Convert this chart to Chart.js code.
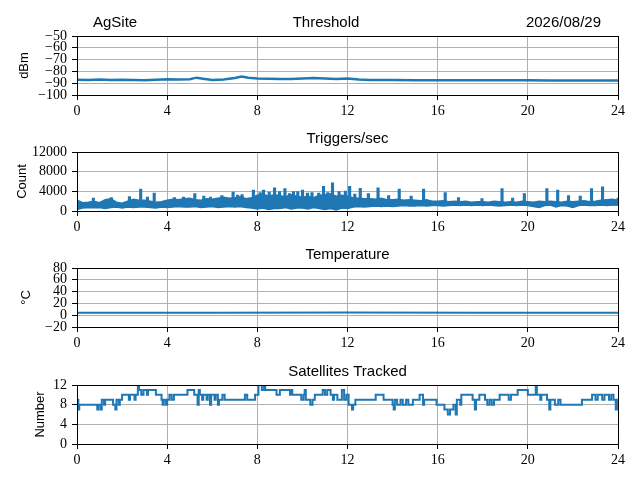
<!DOCTYPE html>
<html>
<head>
<meta charset="utf-8">
<script src="https://cdn.jsdelivr.net/npm/chart.js@4.4.1/dist/chart.umd.min.js"></script>
<style>
  body { margin: 0; background: #fff; }
  #wrap { position: relative; width: 640px; height: 480px; }
  canvas { position: absolute; left: 0; }
</style>
</head>
<body>
<div id="wrap">
  <canvas id="thr" width="640" height="120" style="top:0px"></canvas>
  <canvas id="trig" width="640" height="120" style="top:116px"></canvas>
  <canvas id="temp" width="640" height="120" style="top:232px"></canvas>
  <canvas id="sats" width="640" height="120" style="top:349px"></canvas>
</div>
<script>
// tick labels
const hourTicks = [0, 4, 8, 12, 16, 20, 24];
const thrTicks = [-100, -90, -80, -70, -60, -50];
const trigTicks = [0, 4000, 8000, 12000];
const tempTicks = [-20, 0, 20, 40, 60, 80];
const satTicks = [0, 4, 8, 12];

// threshold (dBm)
const thrHours = [0, 0.5, 1, 1.5, 2, 2.5, 3, 3.5, 4, 4.5, 5, 5.3, 5.6, 6, 6.5, 7, 7.3, 7.6, 8, 8.5,
  9, 9.5, 10, 10.5, 11, 11.5, 12, 12.5, 13, 14, 15, 16, 17, 18, 19, 20, 21, 22, 23, 24];
const thrDbm = [-87.0, -87.2, -86.9, -87.3, -87.0, -87.2, -87.6, -87.0, -86.6, -86.9, -86.6, -85.3, -86.2, -87.2, -86.9, -85.6, -84.4, -85.3, -86.0, -86.3,
  -86.5, -86.4, -86.0, -85.6, -86.0, -86.4, -86.1, -86.8, -87.2, -87.3, -87.4, -87.4, -87.5, -87.5, -87.5, -87.6, -87.8, -87.8, -87.7, -87.7];

// triggers/sec, low and high edge of the noisy band every quarter hour
const trigLow = [
  300, 600, 700, 650,   700, 500, 700, 800,   600, 800, 700, 800,   800, 700, 600, 800,
  700, 800, 900, 800,   800, 900, 700, 800,   900, 700, 800, 900,   800, 900, 700, 600,
  400, 600, 300, 500,   500, 700, 400, 600,   600, 400, 700, 500,   300, 500, 200, 600,
  500, 800, 900, 800,   900, 1000, 900, 1000, 900, 1000, 1100, 1000, 1000, 1100, 1000, 1100,
  1100, 1000, 1100, 1200, 1100, 1200, 1100, 1200, 1100, 1200, 1100, 1000, 1100, 1200, 1100, 1200,
  1100, 900, 700, 1100, 1200, 800, 1100, 1000, 700, 1100, 1200, 1100, 1100, 1200, 1100, 1200,
  1200];
const trigHigh = [
  2200, 1700, 1800, 2000, 1700, 2300, 2500, 1800, 1600, 2000, 2400, 2200, 2200, 2000, 1800, 1900,
  2200, 2400, 2300, 2500, 2600, 2300, 2200, 2500, 2400, 2600, 2800, 2600, 2700, 2900, 2500, 2700,
  3200, 3400, 3000, 3300, 3100, 2900, 3300, 3000, 2800, 3000, 2700, 3200, 3300, 3500, 3000, 3200,
  3000, 2700, 2600, 2500, 2500, 2400, 2600, 2300, 2300, 2400, 2200, 2300, 2200, 2100, 2300, 2000,
  2000, 2100, 1900, 2000, 1900, 2000, 1800, 1900, 1900, 1800, 2000, 1900, 1800, 1900, 1800, 2000,
  1900, 1800, 2000, 1900, 2000, 1900, 1800, 2000, 1900, 2000, 2100, 1900, 2000, 2200, 2300, 2400,
  2200];
const spikeHours = [0.7, 1.5, 2.3, 2.8, 3.1, 3.4, 4.3, 4.7, 5.2, 5.6, 5.9, 6.4, 6.9, 7.1, 7.3, 7.8, 8.1, 8.25, 8.5, 8.74,
  8.96, 9.2, 9.4, 9.58, 9.77, 9.98, 10.2, 10.4, 10.7, 10.91, 11.1, 11.31, 11.6, 11.88, 12.07, 12.3, 12.54, 12.9, 13.33, 13.8,
  14.27, 14.8, 15.35, 16.31, 16.9, 17.94, 18.83, 19.3, 19.82, 20.82, 21.3, 21.78, 22.3, 22.8, 23.29, 23.98];
const spikeCounts = [2500, 2600, 2800, 4300, 2700, 3500, 2600, 2700, 3400, 2900, 2700, 3000, 3700, 3100, 3200, 4100, 3600, 4100, 3700, 4600,
  3800, 4400, 3400, 3800, 3800, 4100, 3500, 3600, 3500, 4900, 3600, 5600, 3800, 3900, 4900, 3300, 4500, 3400, 4600, 3000,
  4300, 2900, 4300, 3600, 2600, 2400, 4400, 2500, 3400, 4400, 4100, 3000, 2900, 4400, 4800, 2500];

// temperature (C)
const tempHours = [0, 6, 12, 18, 24];
const tempC = [4.2, 4.3, 4.4, 4.3, 4.2];

// satellites tracked, value holds from each hour onward
const satHours = [
  0, 0.03, 0.06, 0.10, 0.90, 0.95, 1.05, 1.10, 1.20, 1.25,
  1.60, 1.70, 1.75, 1.85, 1.90, 2.00, 2.30, 2.35, 2.55, 2.60,
  2.70, 2.75, 2.85, 2.95, 3.10, 3.15, 3.50, 3.75, 3.80, 3.85,
  3.95, 4.00, 4.10, 4.20, 4.30, 4.90, 5.20, 5.35, 5.40, 5.45,
  5.55, 5.60, 5.75, 5.80, 5.90, 5.95, 6.10, 6.15, 6.25, 6.30,
  6.45, 6.55, 7.45, 7.55, 7.90, 8.05, 8.20, 8.30, 8.35, 8.85,
  9.00, 9.45, 9.50, 9.55, 9.95, 10.05, 10.10, 10.15, 10.35, 10.45,
  10.55, 10.90, 11.00, 11.10, 11.25, 11.35, 11.40, 11.55, 11.75, 11.85,
  11.95, 12.05, 12.20, 12.25, 12.35, 13.25, 13.60, 14.00, 14.05, 14.10,
  14.20, 14.35, 14.45, 14.60, 14.70, 14.90, 15.20, 15.35, 15.40, 15.95,
  16.30, 16.45, 16.55, 16.70, 16.80, 16.85, 17.00, 17.05, 17.55, 17.65,
  17.70, 17.85, 18.10, 18.20, 18.30, 18.40, 18.50, 18.75, 19.15, 19.25,
  19.55, 20.00, 20.35, 20.40, 20.55, 20.60, 20.85, 20.95, 21.00, 21.20,
  21.35, 21.45, 22.40, 22.85, 23.00, 23.10, 23.30, 23.40, 23.60, 23.70,
  23.80, 23.90, 23.95, 24.00];
const satCount = [
  8, 9, 7, 8, 7, 8, 7, 9, 8, 9,
  8, 7, 9, 8, 9, 10, 9, 10, 9, 10,
  12, 11, 10, 11, 10, 11, 10, 9, 8, 9,
  8, 9, 10, 9, 10, 11, 10, 8, 11, 10,
  9, 10, 9, 10, 8, 10, 9, 10, 8, 9,
  10, 9, 10, 9, 10, 12, 11, 12, 11, 10,
  11, 10, 11, 10, 9, 10, 11, 9, 8, 9,
  10, 11, 10, 11, 10, 9, 10, 9, 11, 9,
  10, 8, 7, 8, 9, 10, 9, 8, 7, 9,
  8, 9, 8, 9, 8, 9, 10, 8, 9, 8,
  7, 6, 7, 8, 6, 9, 8, 10, 9, 7,
  9, 10, 9, 8, 9, 8, 9, 10, 9, 10,
  11, 10, 12, 10, 9, 10, 9, 7, 9, 8,
  9, 8, 9, 10, 9, 10, 9, 10, 9, 10,
  9, 7, 9, 9];

const BLUE = '#1f77b4';
const GRID = '#b0b0b0';
const tickFont = { family: '"Liberation Serif", "DejaVu Serif", serif', size: 14, lineHeight: 1.2 };
const labelFont = { family: '"Liberation Sans", Arial, sans-serif', size: 13, lineHeight: 1.2 };

function pts(xs, ys) {
  return xs.map((x, i) => ({ x: x, y: ys[i] }));
}

// frame round the plot area, like matplotlib spines
const boxPlugin = {
  id: 'box',
  afterDraw(chart) {
    const a = chart.chartArea, ctx = chart.ctx;
    ctx.save();
    ctx.strokeStyle = '#000';
    ctx.lineWidth = 1;
    ctx.strokeRect(Math.round(a.left) + 0.5, Math.round(a.top) + 0.5,
      Math.round(a.right - a.left), Math.round(a.bottom - a.top));
    ctx.restore();
  }
};

const titlePlugin = {
  id: 'panelTitles',
  afterDraw(chart, args, o) {
    const a = chart.chartArea, ctx = chart.ctx;
    ctx.save();
    ctx.font = '15px "Liberation Sans", Arial, sans-serif';
    ctx.fillStyle = '#000';
    ctx.textBaseline = 'alphabetic';
    (o.items || []).forEach(t => {
      ctx.textAlign = t.align;
      ctx.fillText(t.text, a.left + t.dx, a.top - 9);
    });
    ctx.restore();
  }
};

function gridOpts() {
  return { color: GRID, lineWidth: 1, tickColor: '#000', tickLength: 5, tickWidth: 1 };
}

function xScale() {
  return {
    type: 'linear', min: 0, max: 24,
    afterBuildTicks: s => { s.ticks = hourTicks.map(v => ({ value: v })); },
    afterFit: s => { s.height = 25; },
    grid: gridOpts(),
    border: { display: false },
    ticks: { autoSkip: false, maxRotation: 0, padding: 3, color: '#000', font: tickFont }
  };
}

function yScale(ticks, label, labelX) {
  return {
    type: 'linear', min: ticks[0], max: ticks[ticks.length - 1],
    afterBuildTicks: s => { s.ticks = ticks.map(v => ({ value: v })); },
    afterFit: s => { s.width = 77; },
    grid: gridOpts(),
    border: { display: false },
    ticks: {
      autoSkip: false, padding: 5, color: '#000', font: tickFont,
      callback: v => String(v).replace('-', '\u2212')
    },
    title: {
      display: true, text: label, color: '#000', font: labelFont,
      padding: { top: labelX - 7.8, bottom: 0 }
    }
  };
}

function makePanel(id, datasets, yTicks, yLabel, labelX, titles) {
  new Chart(document.getElementById(id), {
    type: 'line',
    data: { datasets: datasets },
    options: {
      responsive: false,
      animation: false,
      events: [],
      layout: { padding: { top: 36, right: 22, left: 0, bottom: 0 } },
      elements: { point: { radius: 0 }, line: { tension: 0 } },
      scales: { x: xScale(), y: yScale(yTicks, yLabel, labelX) },
      plugins: {
        legend: { display: false },
        tooltip: { enabled: false },
        panelTitles: { items: titles }
      }
    },
    plugins: [boxPlugin, titlePlugin]
  });
}

// spikes are narrow flat-topped bars standing on a level inside the band
const spikeBase = 1300;
const spikeWidth = 0.05;
const spikePts = [{ x: 0, y: spikeBase }];
spikeHours.forEach((t, i) => {
  spikePts.push({ x: t, y: spikeBase }, { x: t, y: spikeCounts[i] },
    { x: t + spikeWidth, y: spikeCounts[i] }, { x: t + spikeWidth, y: spikeBase });
});
spikePts.push({ x: 24, y: spikeBase });
const trigHours = trigLow.map((_, i) => i * 0.25);

makePanel('thr', [
  { data: pts(thrHours, thrDbm), borderColor: BLUE, borderWidth: 2.5 }
], thrTicks, 'dBm', 24, [
  { text: 'AgSite', align: 'left', dx: 16 },
  { text: 'Threshold', align: 'center', dx: 249 },
  { text: '2026/08/29', align: 'right', dx: 524 }
]);

makePanel('trig', [
  { data: pts(trigHours, trigLow), borderColor: BLUE, borderWidth: 1.5, fill: false },
  { data: pts(trigHours, trigHigh), borderColor: BLUE, borderWidth: 1.5, backgroundColor: BLUE, fill: '-1' },
  { data: spikePts, borderColor: BLUE, borderWidth: 2 }
], trigTicks, 'Count', 22, [
  { text: 'Triggers/sec', align: 'center', dx: 270.5 }
]);

makePanel('temp', [
  { data: pts(tempHours, tempC), borderColor: BLUE, borderWidth: 2 }
], tempTicks, '\u00b0C', 26, [
  { text: 'Temperature', align: 'center', dx: 270.5 }
]);

makePanel('sats', [
  { data: pts(satHours, satCount), borderColor: BLUE, borderWidth: 2, stepped: true }
], satTicks, 'Number', 40, [
  { text: 'Satellites Tracked', align: 'center', dx: 270.5 }
]);
</script>
</body>
</html>
